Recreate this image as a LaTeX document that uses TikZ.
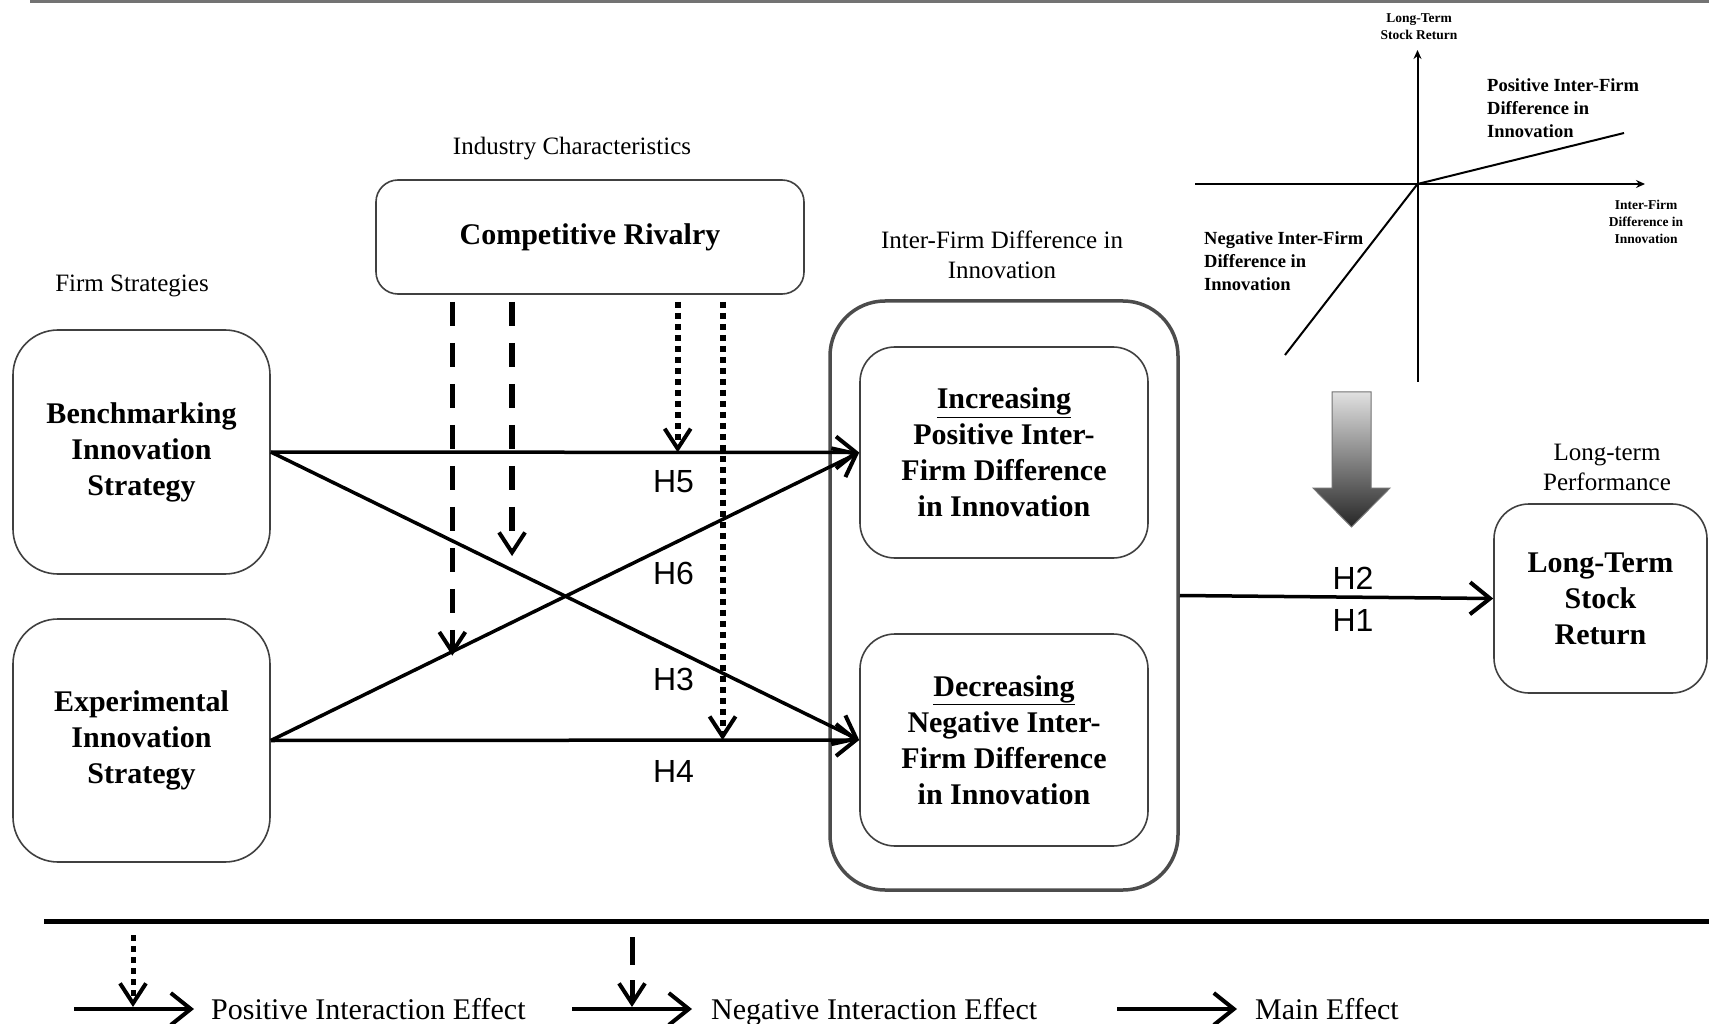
\documentclass[tikz,border=0pt]{standalone}
\usepackage{fontspec}
\setmainfont{Liberation Serif}
\newfontfamily\hsans{Liberation Sans}
\usetikzlibrary{arrows.meta,calc}
\begin{document}
\begin{tikzpicture}[x=1pt,y=-1pt,
  rbox/.style={draw=black!75, line width=1.6pt, align=center, inner sep=0pt,
    font=\bfseries\fontsize{30}{36}\selectfont},
  lab/.style={align=center, inner sep=0pt, font=\fontsize{25}{30}\selectfont},
  hlab/.style={inner sep=0pt, font=\hsans\fontsize{32}{36}\selectfont},
  chartlab/.style={inner sep=0pt, font=\bfseries\fontsize{18.5}{23.3}\selectfont, align=left},
  tinylab/.style={inner sep=0pt, font=\bfseries\fontsize{13.5}{17}\selectfont, align=center},
  legtext/.style={inner sep=0pt, anchor=base west, font=\fontsize{30}{34}\selectfont},
  barb/.style={-{Straight Barb[length=20pt,width=32pt,line width=4pt]}},
  modbarb/.style={-{Straight Barb[length=20pt,width=26pt,line width=4pt]}},
  mainarrow/.style={line width=3.5pt, barb},
  dashmod/.style={line width=5.5pt, dash pattern=on 24pt off 17pt, modbarb},
  dotmod/.style={line width=6pt, dash pattern=on 6pt off 5pt, modbarb},
  axis/.style={line width=2pt, -{Stealth[length=9pt,width=8pt]}},
  curve/.style={line width=2pt}
]
\fill[white] (0,0) rectangle (1709,1024);
\useasboundingbox (0,0) rectangle (1709,1024);

% frame lines
\coordinate (tl) at (30,1.5);
\coordinate (tr) at (1709,1.5);
\draw[black!55, line width=2.5pt] (tl) -- (tr);
\coordinate (bl) at (44,921);
\coordinate (br) at (1709,921);
\draw[black, line width=5pt] (bl) -- (br);

% group labels
\node[lab] (ind) at (572,149) {Industry Characteristics};
\node[lab] (fs) at (132,286) {Firm Strategies};
\node[lab] (ifd) at (1002,255) {Inter-Firm Difference in\\Innovation};
\node[lab] (ltp) at (1607,467) {Long-term\\Performance};

% boxes
\node[rbox, minimum width=428pt, minimum height=114pt, rounded corners=22pt] (cr) at (590,237) {Competitive Rivalry};
\node[rbox, minimum width=257pt, minimum height=244pt, rounded corners=45pt] (bench) at (141.5,452) {Benchmarking\\Innovation\\Strategy};
\node[rbox, minimum width=257pt, minimum height=243pt, rounded corners=45pt] (exp) at (141.5,740.5) {Experimental\\Innovation\\Strategy};
\node[draw=black!70, line width=3.5pt, rounded corners=55pt, minimum width=348pt, minimum height=589pt, inner sep=0pt] (cont) at (1004,595.5) {};
\node[rbox, minimum width=288pt, minimum height=211pt, rounded corners=35pt] (inc) at (1004,452.5) {\underline{Increasing}\\Positive Inter-\\Firm Difference\\in Innovation};
\node[rbox, minimum width=288pt, minimum height=212pt, rounded corners=35pt] (dec) at (1004,740) {\underline{Decreasing}\\Negative Inter-\\Firm Difference\\in Innovation};
\node[rbox, minimum width=213pt, minimum height=189pt, rounded corners=35pt] (ltsr) at (1600.5,598.5) {Long-Term\\Stock\\Return};

% main effects
\draw[mainarrow] (bench.east) -- (inc.west);
\draw[mainarrow] (bench.east) -- (dec.west);
\draw[mainarrow] (exp.east) -- (inc.west);
\draw[mainarrow] (exp.east) -- (dec.west);
\draw[mainarrow] (cont.east) -- (ltsr.west);

% points on the main effects
\path (exp.east) -- (inc.west) coordinate[pos=0.3085] (m1);
\path (bench.east) -- (dec.west) coordinate[pos=0.41] (m2);
\path (bench.east) -- (inc.west) coordinate[pos=0.6915] (m3);
\path (exp.east) -- (dec.west) coordinate[pos=0.7678] (m4);

% moderators
\draw[dashmod, shorten >=-4pt] ([yshift=-7pt]m1 |- cr.south) -- (m1);
\draw[dashmod, shorten >=14pt] ([yshift=-7pt]m2 |- cr.south) -- (m2);
\draw[dotmod] ([yshift=-7pt]m3 |- cr.south) -- (m3);
\draw[dotmod] ([yshift=-7pt]m4 |- cr.south) -- (m4);

% hypothesis labels
\node[hlab] (h5) at (673.5,482) {H5};
\node[hlab] (h6) at (673.5,573) {H6};
\node[hlab] (h3) at (673.5,679) {H3};
\node[hlab] (h4) at (673.5,771) {H4};
\node[hlab] (h2) at (1353,578) {H2};
\node[hlab] (h1) at (1353,620) {H1};

% shaded arrow
\shadedraw[top color=black!12, bottom color=black!85, draw=black!55, line width=1pt]
  (1332,392) -- (1371,392) -- (1371,488) -- (1390,488) -- (1351.5,527)
  -- (1313,488) -- (1332,488) -- cycle;

% small chart
\coordinate (o) at (1417.5,184);
\coordinate (xl) at (1195,184);
\coordinate (xr) at (1645,184);
\coordinate (yb) at (1417.5,382);
\coordinate (yt) at (1417.5,50);
\coordinate (pe) at (1624,133);
\coordinate (ne) at (1285,355);
\draw[axis] (xl) -- (xr);
\draw[axis] (yb) -- (yt);
\draw[curve] (o) -- (pe);
\draw[curve] (o) -- (ne);
\node[tinylab] (ylab) at (1419,27) {Long-Term\\Stock Return};
\node[tinylab] (xlab) at (1646,222) {Inter-Firm\\Difference in\\Innovation};
\node[chartlab, anchor=west] (poslab) at (1487,108) {Positive Inter-Firm\\Difference in\\Innovation};
\node[chartlab, anchor=west] (neglab) at (1204,261) {Negative Inter-Firm\\Difference in\\Innovation};

% legend
\coordinate (la1) at (74,1009);
\coordinate (la2) at (194,1009);
\coordinate (lv1t) at (133,935);
\coordinate (lv1b) at (133,1007);
\draw[line width=4.5pt, barb] (la1) -- (la2);
\draw[line width=5pt, dash pattern=on 6pt off 5pt, modbarb] (lv1t) -- (lv1b);
\node[legtext] (lt1) at (211,1019) {Positive Interaction Effect};

\coordinate (lb1) at (572,1009);
\coordinate (lb2) at (692,1009);
\coordinate (lv2t) at (632,937);
\coordinate (lv2b) at (632,1007);
\draw[line width=4.5pt, barb] (lb1) -- (lb2);
\draw[line width=5pt, dash pattern=on 28pt off 15pt, modbarb] (lv2t) -- (lv2b);
\node[legtext] (lt2) at (711,1019) {Negative Interaction Effect};

\coordinate (lc1) at (1117,1009);
\coordinate (lc2) at (1237,1009);
\draw[line width=4.5pt, barb] (lc1) -- (lc2);
\node[legtext] (lt3) at (1255,1019) {Main Effect};
\end{tikzpicture}
\end{document}
